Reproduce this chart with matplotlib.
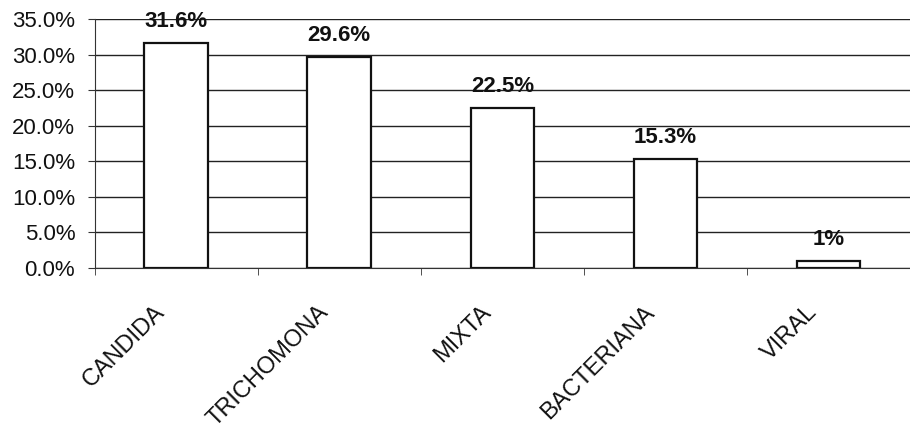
import numpy as np
import matplotlib.pyplot as plt
from matplotlib.ticker import FuncFormatter, MultipleLocator

plt.rcParams['font.family'] = ['Liberation Sans', 'DejaVu Sans']

categorias = ['CANDIDA', 'TRICHOMONA', 'MIXTA', 'BACTERIANA', 'VIRAL']
porcentajes = [31.6, 29.6, 22.5, 15.3, 1.0]
etiquetas = ['31.6%', '29.6%', '22.5%', '15.3%', '1%']

fig = plt.figure(figsize=(9.1, 4.32), dpi=100)
ax = fig.add_axes([0.104, 0.38, 0.896, 0.576])

x = np.arange(len(categorias))
ax.bar(x, porcentajes, width=0.39, color='white', edgecolor='#111111',
       linewidth=1.6, zorder=3)

for xi, v, lab in zip(x, porcentajes, etiquetas):
    ax.annotate(lab, (xi, v), xytext=(0, 8), textcoords='offset points',
                ha='center', va='bottom', fontsize=16, fontweight='bold',
                color='#111111', zorder=4)

ax.set_xlim(-0.5, len(categorias) - 0.5)
ax.set_ylim(0, 35)
ax.yaxis.set_major_locator(MultipleLocator(5))
ax.yaxis.set_major_formatter(FuncFormatter(lambda v, p: f'{v:.1f}%'))
ax.grid(axis='y', color='#222222', linewidth=1.0, zorder=0)
ax.set_axisbelow(True)

# category names, rotated 45 degrees below the axis
ax.set_xticks([])
for xi, nombre in zip(x, categorias):
    ax.annotate(nombre, (xi, 0), xycoords=('data', 'axes fraction'),
                xytext=(-16, -24), textcoords='offset points',
                rotation=45, rotation_mode='anchor', ha='right', va='top',
                fontsize=17, color='#111111', annotation_clip=False)

# separators between categories
ax.set_xticks(np.arange(-0.5, len(categorias) + 0.5, 1), minor=True)
ax.tick_params(axis='x', which='minor', length=5, color='#333333')
ax.tick_params(axis='y', length=5, pad=9, labelsize=16, labelcolor='#111111',
               color='#333333')

for s in ['top', 'right']:
    ax.spines[s].set_visible(False)
ax.spines['left'].set_color('#333333')
ax.spines['bottom'].set_color('#333333')

fig.savefig('out.png', dpi=100)
